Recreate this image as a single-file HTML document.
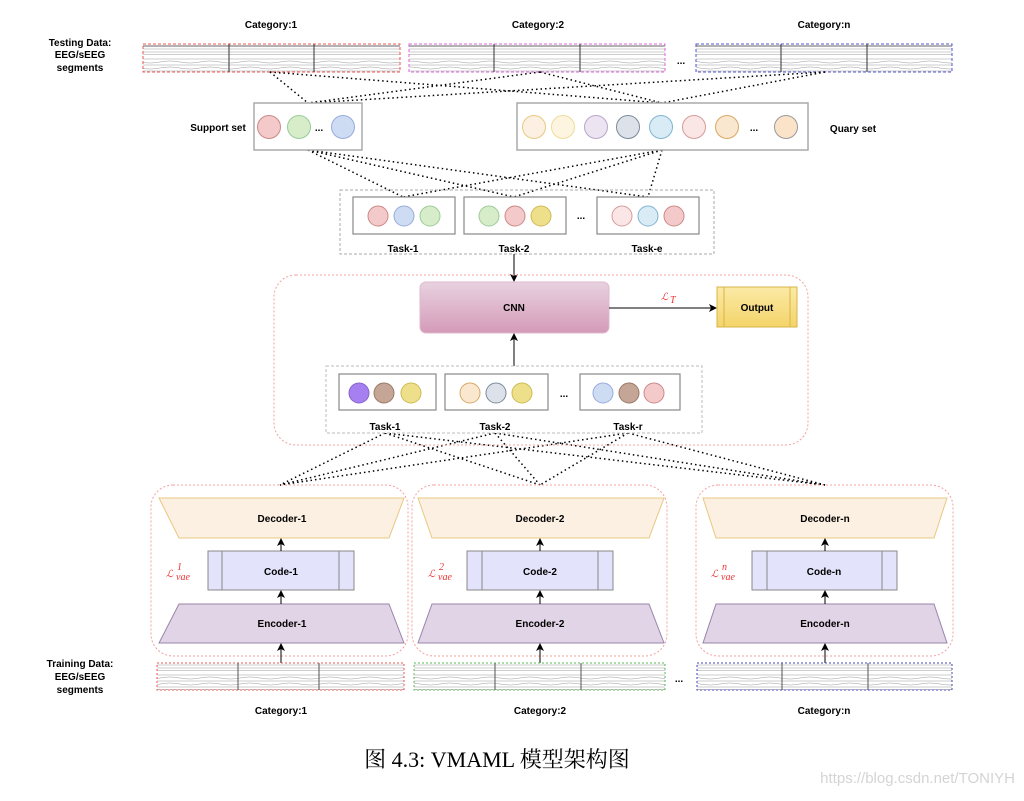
<!DOCTYPE html>
<html><head><meta charset="utf-8"><style>
body{margin:0;background:#fff;width:1024px;height:796px;overflow:hidden}
text{font-family:"Liberation Sans",sans-serif;font-weight:bold;font-size:10px;fill:#000}
.lt{font-family:'Liberation Serif',serif;font-style:italic;font-weight:normal;fill:#e33}
</style></head><body>
<svg width="1024" height="796" viewBox="0 0 1024 796" xmlns="http://www.w3.org/2000/svg">
<defs>
<pattern id="eeg" width="40" height="28" patternUnits="userSpaceOnUse">
<rect width="40" height="28" fill="#fff"/>
<path d="M0 3 H40 M0 6 Q10 4 20 6 T40 6 M0 9 H40 M0 12 Q10 10 20 12 T40 12 M0 15 H40 M0 18 H40 M0 21 H40 M0 24 H40 M0 26.5 H40" stroke="#999" stroke-width="0.5" fill="none"/>
<path d="M0 18 H40" stroke="#444" stroke-width="0.7"/>
</pattern>
<linearGradient id="cnn" x1="0" y1="0" x2="0" y2="1"><stop offset="0" stop-color="#e8d2e0"/><stop offset="1" stop-color="#d49ab8"/></linearGradient>
<linearGradient id="out" x1="0" y1="0" x2="0" y2="1"><stop offset="0" stop-color="#fbeaa6"/><stop offset="1" stop-color="#f4d46a"/></linearGradient>
<marker id="ar" markerWidth="8" markerHeight="8" refX="7" refY="4" orient="auto" markerUnits="userSpaceOnUse"><path d="M0 0 L8 4 L0 8 L2 4 Z" fill="#000"/></marker>
</defs>

<text x="271" y="28" text-anchor="middle">Category:1</text>
<text x="538" y="28" text-anchor="middle">Category:2</text>
<text x="824" y="28" text-anchor="middle">Category:n</text>
<text x="80" y="46" text-anchor="middle">Testing Data:</text>
<text x="80" y="58" text-anchor="middle">EEG/sEEG</text>
<text x="80" y="71" text-anchor="middle">segments</text>

<g stroke-width="1">
<rect x="143" y="44" width="257" height="28" fill="url(#eeg)" stroke="#e55" stroke-dasharray="3,2"/>
<line x1="229" y1="44" x2="229" y2="72" stroke="#333"/><line x1="314" y1="44" x2="314" y2="72" stroke="#333"/>
<rect x="409" y="44" width="256" height="28" fill="url(#eeg)" stroke="#d6d" stroke-dasharray="3,2"/>
<line x1="494" y1="44" x2="494" y2="72" stroke="#333"/><line x1="580" y1="44" x2="580" y2="72" stroke="#333"/>
<rect x="696" y="44" width="256" height="28" fill="url(#eeg)" stroke="#55c" stroke-dasharray="3,2"/>
<line x1="781" y1="44" x2="781" y2="72" stroke="#333"/><line x1="867" y1="44" x2="867" y2="72" stroke="#333"/>
</g>
<text x="681" y="64" text-anchor="middle">...</text>

<g stroke="#000" stroke-width="1.5" stroke-dasharray="1.5,3" fill="none">
<line x1="270" y1="72" x2="308" y2="103"/><line x1="270" y1="72" x2="662" y2="103"/>
<line x1="540" y1="72" x2="308" y2="103"/><line x1="540" y1="72" x2="662" y2="103"/>
<line x1="825" y1="72" x2="308" y2="103"/><line x1="825" y1="72" x2="662" y2="103"/>
<line x1="308" y1="150" x2="403" y2="197"/><line x1="308" y1="150" x2="514" y2="197"/><line x1="308" y1="150" x2="648" y2="197"/>
<line x1="662" y1="150" x2="403" y2="197"/><line x1="662" y1="150" x2="514" y2="197"/><line x1="662" y1="150" x2="648" y2="197"/>
<line x1="385" y1="433" x2="280" y2="485"/><line x1="385" y1="433" x2="540" y2="485"/><line x1="385" y1="433" x2="825" y2="485"/>
<line x1="495" y1="433" x2="280" y2="485"/><line x1="495" y1="433" x2="540" y2="485"/><line x1="495" y1="433" x2="825" y2="485"/>
<line x1="628" y1="433" x2="280" y2="485"/><line x1="628" y1="433" x2="540" y2="485"/><line x1="628" y1="433" x2="825" y2="485"/>
</g>

<text x="218" y="131" text-anchor="middle">Support set</text>
<rect x="254" y="103" width="108" height="47" fill="#fff" stroke="#aaa" stroke-width="1.5"/>
<circle cx="269" cy="127" r="11.5" fill="#f3c9c9" stroke="#c88"/>
<circle cx="299" cy="127" r="11.5" fill="#d7ecc9" stroke="#9c9"/>
<text x="319" y="131" text-anchor="middle">...</text>
<circle cx="343" cy="127" r="11.5" fill="#cddcf3" stroke="#9ad"/>

<rect x="517" y="103" width="291" height="47" fill="#fff" stroke="#aaa" stroke-width="1.5"/>
<circle cx="534" cy="127" r="11.5" fill="#fcf0e2" stroke="#e8c880"/>
<circle cx="563" cy="127" r="11.5" fill="#fdf5df" stroke="#eedc9a"/>
<circle cx="596" cy="127" r="11.5" fill="#ece4f0" stroke="#b9a6c9"/>
<circle cx="628" cy="127" r="11.5" fill="#dde2ea" stroke="#7b8a99"/>
<circle cx="661" cy="127" r="11.5" fill="#d9ebf5" stroke="#7fb5d2"/>
<circle cx="694" cy="127" r="11.5" fill="#fbe6e6" stroke="#d69a9a"/>
<circle cx="727" cy="127" r="11.5" fill="#fae7d0" stroke="#d9a864"/>
<text x="754" y="131" text-anchor="middle">...</text>
<circle cx="786" cy="127" r="11.5" fill="#fbe3c9" stroke="#999"/>
<text x="853" y="132" text-anchor="middle">Quary set</text>

<rect x="340" y="190" width="374" height="64" fill="none" stroke="#aaa" stroke-dasharray="3,2"/>
<rect x="353" y="197" width="102" height="37" fill="#fff" stroke="#888" stroke-width="1.2"/>
<circle cx="378" cy="216" r="10" fill="#f3c9c9" stroke="#c88"/>
<circle cx="404" cy="216" r="10" fill="#cddcf3" stroke="#9ad"/>
<circle cx="430" cy="216" r="10" fill="#d7ecc9" stroke="#9c9"/>
<rect x="464" y="197" width="102" height="37" fill="#fff" stroke="#888" stroke-width="1.2"/>
<circle cx="489" cy="216" r="10" fill="#d7ecc9" stroke="#9c9"/>
<circle cx="515" cy="216" r="10" fill="#f3c9c9" stroke="#c88"/>
<circle cx="541" cy="216" r="10" fill="#eee08a" stroke="#cb5"/>
<text x="581" y="219" text-anchor="middle">...</text>
<rect x="597" y="197" width="102" height="37" fill="#fff" stroke="#888" stroke-width="1.2"/>
<circle cx="622" cy="216" r="10" fill="#fbe6e6" stroke="#d69a9a"/>
<circle cx="648" cy="216" r="10" fill="#d9ebf5" stroke="#7fb5d2"/>
<circle cx="674" cy="216" r="10" fill="#f3c9c9" stroke="#c88"/>
<text x="403" y="252" text-anchor="middle">Task-1</text>
<text x="514" y="252" text-anchor="middle">Task-2</text>
<text x="647" y="252" text-anchor="middle">Task-e</text>
<line x1="514" y1="254" x2="514" y2="281" stroke="#000" marker-end="url(#ar)"/>

<rect x="274" y="275" width="534" height="170" rx="22" fill="none" stroke="#f4a0a0" stroke-dasharray="2,2"/>
<rect x="420" y="282" width="189" height="51" rx="6" fill="url(#cnn)" stroke="#e0b8cc"/>
<text x="514" y="311" text-anchor="middle">CNN</text>
<line x1="609" y1="308" x2="716" y2="308" stroke="#000" marker-end="url(#ar)"/>
<text x="661" y="300" class="lt" font-size="13">ℒ</text><text x="670" y="303" class="lt" font-size="8">T</text>
<rect x="717" y="287" width="80" height="40" fill="url(#out)" stroke="#d9b44a"/>
<line x1="724" y1="287" x2="724" y2="327" stroke="#d9b44a"/><line x1="790" y1="287" x2="790" y2="327" stroke="#d9b44a"/>
<text x="757" y="311" text-anchor="middle">Output</text>
<line x1="514" y1="366" x2="514" y2="334" stroke="#000" marker-end="url(#ar)"/>

<rect x="326" y="366" width="376" height="67" fill="#fff" stroke="#bbb" stroke-dasharray="3,2"/>
<rect x="339" y="374" width="97" height="36" fill="#fff" stroke="#888" stroke-width="1.2"/>
<circle cx="359" cy="393" r="10" fill="#a67ff0" stroke="#86c"/>
<circle cx="384" cy="393" r="10" fill="#c4a596" stroke="#9a7a6b"/>
<circle cx="411" cy="393" r="10" fill="#eee08a" stroke="#cb5"/>
<rect x="445" y="374" width="103" height="36" fill="#fff" stroke="#888" stroke-width="1.2"/>
<circle cx="470" cy="393" r="10" fill="#fae7d0" stroke="#d9a864"/>
<circle cx="496" cy="393" r="10" fill="#dde2ea" stroke="#7b8a99"/>
<circle cx="522" cy="393" r="10" fill="#eee08a" stroke="#cb5"/>
<text x="564" y="397" text-anchor="middle">...</text>
<rect x="580" y="374" width="100" height="36" fill="#fff" stroke="#888" stroke-width="1.2"/>
<circle cx="603" cy="393" r="10" fill="#cddcf3" stroke="#9ad"/>
<circle cx="629" cy="393" r="10" fill="#c4a596" stroke="#9a7a6b"/>
<circle cx="654" cy="393" r="10" fill="#f3c9c9" stroke="#c88"/>
<text x="385" y="430" text-anchor="middle">Task-1</text>
<text x="495" y="430" text-anchor="middle">Task-2</text>
<text x="628" y="430" text-anchor="middle">Task-r</text>

<g>
<rect x="151" y="485" width="257" height="171" rx="22" fill="none" stroke="#f4a0a0" stroke-dasharray="2,2"/>
<polygon points="159,498 404,498 389,538 179,538" fill="#fcf0e2" stroke="#e8c880"/>
<text x="282" y="522" text-anchor="middle">Decoder-1</text>
<rect x="208" y="551" width="146" height="39" fill="#e3e3fb" stroke="#888"/>
<line x1="222" y1="551" x2="222" y2="590" stroke="#888"/><line x1="339" y1="551" x2="339" y2="590" stroke="#888"/>
<text x="281" y="575" text-anchor="middle">Code-1</text>
<polygon points="179,604 389,604 404,643 159,643" fill="#e0d4e6" stroke="#9a85aa"/>
<text x="282" y="627" text-anchor="middle">Encoder-1</text>
<line x1="281" y1="551" x2="281" y2="539" stroke="#000" marker-end="url(#ar)"/>
<line x1="281" y1="604" x2="281" y2="591" stroke="#000" marker-end="url(#ar)"/>
<line x1="281" y1="663" x2="281" y2="644" stroke="#000" marker-end="url(#ar)"/>
<text x="166" y="577" class="lt" font-size="14">ℒ</text><text x="176" y="580" class="lt" font-size="7">vae</text><text x="177" y="570" class="lt" font-size="8">1</text>
</g>
<g>
<rect x="412" y="485" width="255" height="171" rx="22" fill="none" stroke="#f4a0a0" stroke-dasharray="2,2"/>
<polygon points="418,498 664,498 649,538 432,538" fill="#fcf0e2" stroke="#e8c880"/>
<text x="540" y="522" text-anchor="middle">Decoder-2</text>
<rect x="467" y="551" width="146" height="39" fill="#e3e3fb" stroke="#888"/>
<line x1="482" y1="551" x2="482" y2="590" stroke="#888"/><line x1="598" y1="551" x2="598" y2="590" stroke="#888"/>
<text x="540" y="575" text-anchor="middle">Code-2</text>
<polygon points="432,604 649,604 664,643 418,643" fill="#e0d4e6" stroke="#9a85aa"/>
<text x="540" y="627" text-anchor="middle">Encoder-2</text>
<line x1="540" y1="551" x2="540" y2="539" stroke="#000" marker-end="url(#ar)"/>
<line x1="540" y1="604" x2="540" y2="591" stroke="#000" marker-end="url(#ar)"/>
<line x1="540" y1="663" x2="540" y2="644" stroke="#000" marker-end="url(#ar)"/>
<text x="428" y="577" class="lt" font-size="14">ℒ</text><text x="438" y="580" class="lt" font-size="7">vae</text><text x="439" y="570" class="lt" font-size="8">2</text>
</g>
<g>
<rect x="696" y="485" width="257" height="171" rx="22" fill="none" stroke="#f4a0a0" stroke-dasharray="2,2"/>
<polygon points="703,498 947,498 934,538 716,538" fill="#fcf0e2" stroke="#e8c880"/>
<text x="825" y="522" text-anchor="middle">Decoder-n</text>
<rect x="752" y="551" width="145" height="39" fill="#e3e3fb" stroke="#888"/>
<line x1="767" y1="551" x2="767" y2="590" stroke="#888"/><line x1="882" y1="551" x2="882" y2="590" stroke="#888"/>
<text x="824" y="575" text-anchor="middle">Code-n</text>
<polygon points="716,604 934,604 947,643 703,643" fill="#e0d4e6" stroke="#9a85aa"/>
<text x="825" y="627" text-anchor="middle">Encoder-n</text>
<line x1="825" y1="551" x2="825" y2="539" stroke="#000" marker-end="url(#ar)"/>
<line x1="825" y1="604" x2="825" y2="591" stroke="#000" marker-end="url(#ar)"/>
<line x1="825" y1="663" x2="825" y2="644" stroke="#000" marker-end="url(#ar)"/>
<text x="711" y="577" class="lt" font-size="14">ℒ</text><text x="721" y="580" class="lt" font-size="7">vae</text><text x="722" y="570" class="lt" font-size="8">n</text>
</g>

<text x="80" y="667" text-anchor="middle">Training Data:</text>
<text x="80" y="680" text-anchor="middle">EEG/sEEG</text>
<text x="80" y="693" text-anchor="middle">segments</text>
<rect x="157" y="663" width="247" height="27" fill="url(#eeg)" stroke="#e55" stroke-dasharray="2,2"/>
<line x1="238" y1="663" x2="238" y2="690" stroke="#555"/><line x1="319" y1="663" x2="319" y2="690" stroke="#555"/>
<rect x="414" y="663" width="251" height="27" fill="url(#eeg)" stroke="#5b5" stroke-dasharray="2,2"/>
<line x1="495" y1="663" x2="495" y2="690" stroke="#555"/><line x1="581" y1="663" x2="581" y2="690" stroke="#555"/>
<text x="679" y="682" text-anchor="middle">...</text>
<rect x="697" y="663" width="255" height="27" fill="url(#eeg)" stroke="#44b" stroke-dasharray="2,2"/>
<line x1="782" y1="663" x2="782" y2="690" stroke="#555"/><line x1="868" y1="663" x2="868" y2="690" stroke="#555"/>
<text x="281" y="714" text-anchor="middle">Category:1</text>
<text x="540" y="714" text-anchor="middle">Category:2</text>
<text x="824" y="714" text-anchor="middle">Category:n</text>

<text x="497" y="767" text-anchor="middle" style="font-family:'Liberation Serif','Noto Serif CJK SC',serif;font-weight:normal;font-size:22px">图 4.3: VMAML 模型架构图</text>
<text x="1015" y="783" text-anchor="end" style="font-weight:normal;font-size:15px;fill:#d4d4d4">https://blog.csdn.net/TONIYH</text>
</svg>
</body></html>
